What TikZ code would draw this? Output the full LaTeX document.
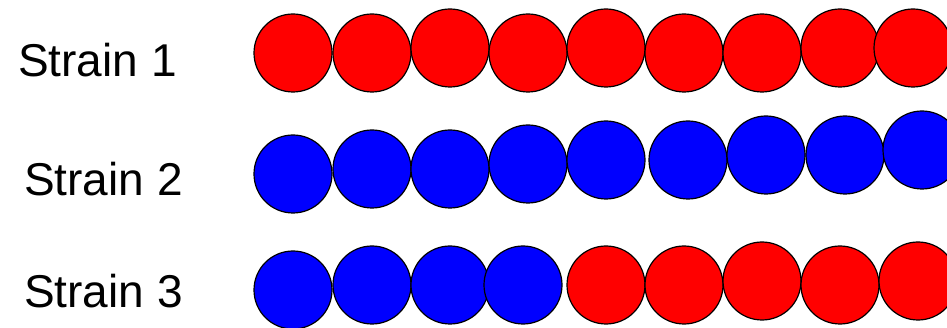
\documentclass[tikz,border=0pt]{standalone}
\usepackage{fontspec}
\setmainfont{Liberation Sans}

\begin{document}
\begin{tikzpicture}[
      x = 1pt, y = -1pt,
      label/.style={
        anchor = base west,
        inner sep = 0pt,
        font = \fontsize{46}{50}\selectfont,
      },
      cell/.style={
        circle,
        draw = black,
        line width = 1.2pt,
        minimum size = 78pt,
        inner sep = 0pt,
      },
      redcell/.style={cell, fill = red},
      bluecell/.style={cell, fill = blue},
    ]
    \useasboundingbox (0,0) rectangle (947,328);
    \clip (0,0) rectangle (947,328);
    % row labels
    \node[label] (s1) at (18,77) {Strain 1};
    \node[label] (s2) at (24,196) {Strain 2};
    \node[label] (s3) at (24,308) {Strain 3};
    % strain 1
    \node[redcell] (a1) at (293,53) {};
    \node[redcell] (a2) at (372,53) {};
    \node[redcell] (a3) at (450,48) {};
    \node[redcell] (a4) at (528,53) {};
    \node[redcell] (a5) at (606,48) {};
    \node[redcell] (a6) at (684,53) {};
    \node[redcell] (a7) at (762,53) {};
    \node[redcell] (a8) at (840,48) {};
    \node[redcell] (a9) at (913,48) {};
    % strain 2
    \node[bluecell] (b1) at (293,174) {};
    \node[bluecell] (b2) at (372,169) {};
    \node[bluecell] (b3) at (450,169) {};
    \node[bluecell] (b4) at (528,164) {};
    \node[bluecell] (b5) at (606,160) {};
    \node[bluecell] (b6) at (688,160) {};
    \node[bluecell] (b7) at (766,155) {};
    \node[bluecell] (b8) at (845,155) {};
    \node[bluecell] (b9) at (922,150) {};
    % strain 3
    \node[bluecell] (c1) at (293,290) {};
    \node[bluecell] (c2) at (372,285) {};
    \node[bluecell] (c3) at (450,285) {};
    \node[bluecell] (c4) at (523,285) {};
    \node[redcell] (c5) at (606,285) {};
    \node[redcell] (c6) at (684,285) {};
    \node[redcell] (c7) at (762,281) {};
    \node[redcell] (c8) at (840,285) {};
    \node[redcell] (c9) at (918,281) {};
  \end{tikzpicture}
\end{document}
